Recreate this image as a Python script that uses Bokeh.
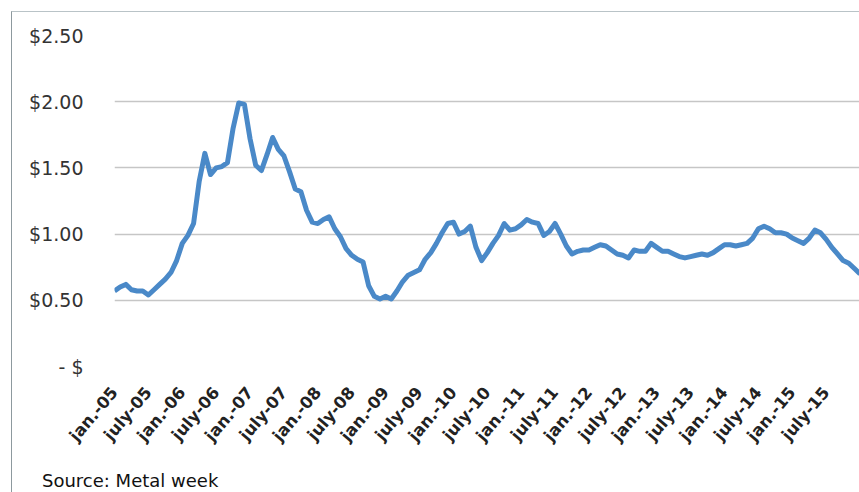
from bokeh.plotting import figure
from bokeh.models import Range1d, FixedTicker, Div
from bokeh.layouts import column
from bokeh.embed import file_html
from bokeh.resources import INLINE

# Monthly price index, Jan 2005 .. Jan 2016 (USD)
months = list(range(133))
price = [
    0.57, 0.60, 0.62, 0.58, 0.57, 0.57, 0.54, 0.58, 0.62, 0.66, 0.71, 0.80,   # 2005
    0.93, 0.99, 1.08, 1.40, 1.61, 1.45, 1.50, 1.51, 1.54, 1.80, 1.99, 1.98,   # 2006
    1.72, 1.52, 1.48, 1.60, 1.73, 1.64, 1.59, 1.47, 1.34, 1.32, 1.18, 1.09,   # 2007
    1.08, 1.11, 1.13, 1.04, 0.98, 0.89, 0.84, 0.81, 0.79, 0.61, 0.53, 0.51,   # 2008
    0.53, 0.51, 0.57, 0.64, 0.69, 0.71, 0.73, 0.81, 0.86, 0.93, 1.01, 1.08,   # 2009
    1.09, 1.00, 1.02, 1.06, 0.90, 0.80, 0.86, 0.93, 0.99, 1.08, 1.03, 1.04,   # 2010
    1.07, 1.11, 1.09, 1.08, 0.99, 1.02, 1.08, 1.00, 0.91, 0.85, 0.87, 0.88,   # 2011
    0.88, 0.90, 0.92, 0.91, 0.88, 0.85, 0.84, 0.82, 0.88, 0.87, 0.87, 0.93,   # 2012
    0.90, 0.87, 0.87, 0.85, 0.83, 0.82, 0.83, 0.84, 0.85, 0.84, 0.86, 0.89,   # 2013
    0.92, 0.92, 0.91, 0.92, 0.93, 0.97, 1.04, 1.06, 1.04, 1.01, 1.01, 1.00,   # 2014
    0.97, 0.95, 0.93, 0.97, 1.03, 1.01, 0.96, 0.90, 0.85, 0.80, 0.78, 0.74,   # 2015
    0.70,                                                                     # 2016
]

tick_months = [0, 6, 12, 18, 24, 30, 36, 42, 48, 54, 60, 66, 72, 78, 84, 90,
               96, 102, 108, 114, 120, 126]
tick_labels = ["jan.-05", "july-05", "jan.-06", "july-06", "jan.-07", "july-07",
               "jan.-08", "july-08", "jan.-09", "july-09", "jan.-10", "july-10",
               "jan.-11", "july-11", "jan.-12", "july-12", "jan.-13", "july-13",
               "jan.-14", "july-14", "jan.-15", "july-15"]
y_ticks = [0, 0.5, 1.0, 1.5, 2.0, 2.5]
y_labels = ["- $", "$0.50", "$1.00", "$1.50", "$2.00", "$2.50"]
source_text = "Source: Metal week"

p = figure(width=847, height=453, output_backend="svg", toolbar_location=None,
           x_range=Range1d(0, 131.9), y_range=Range1d(0, 2.5),
           min_border_left=102, min_border_right=0, min_border_top=23,
           min_border_bottom=99)
p.outline_line_color = None
p.background_fill_color = "white"
p.border_fill_color = "white"

p.line(months, price, line_color="#4a89c8", line_width=5, line_join="round")

# y axis
p.yaxis.ticker = FixedTicker(ticks=y_ticks)
p.yaxis.major_label_overrides = {t: l for t, l in zip(y_ticks, y_labels)}
p.yaxis.axis_line_color = None
p.yaxis.major_tick_line_color = None
p.yaxis.minor_tick_line_color = None
p.yaxis.major_tick_out = 0
p.yaxis.major_label_standoff = 31
p.yaxis.major_label_text_font = "DejaVu Sans"
p.yaxis.major_label_text_font_size = "19px"
p.yaxis.major_label_text_color = "#333333"

# x axis
p.xaxis.ticker = FixedTicker(ticks=tick_months)
p.xaxis.major_label_overrides = {t: l for t, l in zip(tick_months, tick_labels)}
p.xaxis.major_label_orientation = 0.87
p.xaxis.axis_line_color = None
p.xaxis.major_tick_line_color = None
p.xaxis.minor_tick_line_color = None
p.xaxis.major_tick_out = 0
p.xaxis.major_label_standoff = 23
p.xaxis.major_label_text_font = "DejaVu Sans"
p.xaxis.major_label_text_font_style = "bold"
p.xaxis.major_label_text_font_size = "16.5px"
p.xaxis.major_label_text_color = "#222222"

# grid
p.xgrid.grid_line_color = None
p.ygrid.grid_line_color = "#c6c6c6"
p.ygrid.grid_line_width = 1.5

src = Div(text=source_text, width=847, height=27,
          styles={"font-family": "DejaVu Sans", "font-size": "18px",
                  "color": "#111111", "padding-left": "25px",
                  "line-height": "21px", "background": "white"})

layout = column(p, src, spacing=0,
                styles={"margin-left": "11px", "margin-top": "11px",
                        "border-left": "1px solid #8d999e",
                        "border-top": "1px solid #b9c3c7",
                        "background": "white"})

open("out.html", "w").write(file_html(layout, INLINE))
